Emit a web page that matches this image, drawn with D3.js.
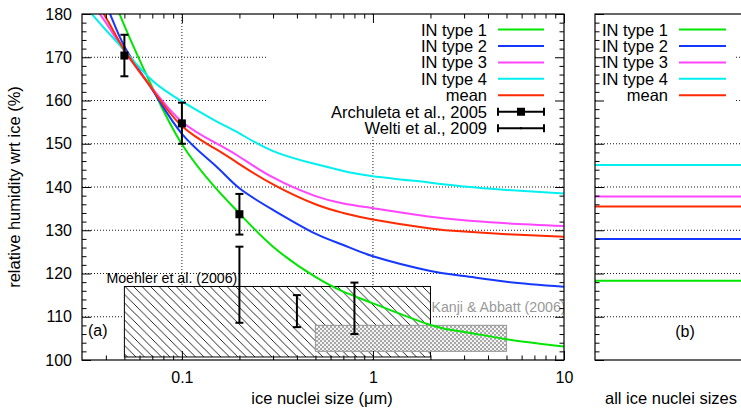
<!DOCTYPE html>
<html>
<head>
<meta charset="utf-8">
<script src="https://cdn.jsdelivr.net/npm/d3@7"></script>
<style>
  html, body { margin: 0; padding: 0; background: #fff; }
  svg { display: block; font-family: "Liberation Sans", Arial, Helvetica, sans-serif; }
</style>
</head>
<body>
<svg id="chart" width="741" height="410"></svg>
<script>
// Ice nuclei sizes (µm) at which the curves are sampled
const sizes = [0.03, 0.04, 0.05, 0.07, 0.1, 0.15, 0.2, 0.3, 0.5, 0.7, 1, 2, 3, 5, 10];

// Onset relative humidity wrt ice (%) for each IN type and their mean
const type1 = [200.0, 188.0, 177.3, 163.0, 149.9, 139.8, 133.9, 126.2, 119.2, 115.8, 113.1, 108.1, 106.5, 104.8, 103.1];
const type2 = [193.0, 182.3, 172.5, 162.5, 152.3, 144.9, 139.7, 134.7, 129.2, 126.6, 124.0, 120.6, 119.4, 118.1, 116.95];
const type3 = [185.5, 178.0, 171.4, 162.8, 155.1, 150.2, 147.0, 142.2, 137.9, 136.2, 135.1, 133.1, 132.3, 131.6, 131.0];
const type4 = [182.6, 176.3, 171.6, 164.6, 159.8, 155.3, 152.4, 148.3, 145.3, 143.7, 142.5, 141.0, 140.1, 139.3, 138.5];
const meanRH = [187.5, 179.2, 171.7, 162.6, 154.1, 148.8, 145.3, 140.6, 136.0, 134.0, 132.5, 130.4, 129.7, 129.1, 128.5];

// Size-independent values (panel b)
const allSizesNames = ["IN type 1", "IN type 2", "IN type 3", "IN type 4", "mean"];
const allSizesRH = [118.3, 128.0, 137.8, 145.1, 135.5];

// Archuleta et al., 2005
const archSize = [0.05, 0.1, 0.2];
const archRH = [170.4, 154.7, 133.7];
const archLow = [165.6, 150.0, 129.0];
const archHigh = [175.2, 159.5, 138.4];

// Welti et al., 2009
const weltiSize = [0.2, 0.4, 0.8];
const weltiLow = [108.6, 107.6, 106.0];
const weltiHigh = [126.2, 115.0, 117.9];

// Shaded measurement ranges
const moehlerSize = [0.05, 2];
const moehlerRH = [100.7, 117];
const kanjiSize = [0.5, 5];
const kanjiRH = [102, 108];

// Axis ticks
const yMajor = [100, 110, 120, 130, 140, 150, 160, 170, 180];
const xMajor = [0.1, 1, 10];
const xMajorLabels = ["0.1", "1", "10"];

const seriesNames = ["IN type 1", "IN type 2", "IN type 3", "IN type 4", "mean"];
const seriesColors = ["#00e600", "#1438ff", "#ff45ff", "#00f0f0", "#ff2a00"];
const seriesValues = [type1, type2, type3, type4, meanRH];

const FS = 16.5;      // key / label font size
const FS_TICK = 16;   // tick label font size
const FS_NOTE = 14.2; // annotation font size

const svg = d3.select("#chart");
svg.append("rect").attr("width", 741).attr("height", 410).attr("fill", "#fff");

const L = {x0: 82, x1: 564, y0: 14, y1: 360};
const R = {x0: 595, x1: 770};

const x = d3.scaleLog().domain([0.03, 10]).range([L.x0, L.x1]);
const y = d3.scaleLinear().domain([100, 180]).range([L.y1, L.y0]);

const defs = svg.append("defs");
defs.append("clipPath").attr("id", "clipL")
  .append("rect").attr("x", L.x0).attr("y", L.y0).attr("width", L.x1 - L.x0).attr("height", L.y1 - L.y0);
defs.append("clipPath").attr("id", "clipR")
  .append("rect").attr("x", R.x0).attr("y", L.y0).attr("width", R.x1 - R.x0).attr("height", L.y1 - L.y0);

// diagonal hatch for Moehler et al.
const hatch = defs.append("pattern").attr("id", "hatch")
  .attr("patternUnits", "userSpaceOnUse").attr("width", 8.5).attr("height", 8.5);
hatch.append("rect").attr("width", 8.5).attr("height", 8.5).attr("fill", "#fff");
hatch.append("path").attr("d", "M-1,-1 L9.5,9.5 M-3,5.5 L3,11.5 M5.5,-3 L11.5,3")
  .attr("stroke", "#000").attr("stroke-width", 0.85);

// fine grey cross-hatch for Kanji & Abbatt
const cross = defs.append("pattern").attr("id", "cross")
  .attr("patternUnits", "userSpaceOnUse").attr("width", 4).attr("height", 4);
cross.append("rect").attr("width", 4).attr("height", 4).attr("fill", "#f2f2f2");
cross.append("rect").attr("width", 2).attr("height", 2).attr("fill", "#a8a8a8");
cross.append("rect").attr("x", 2).attr("y", 2).attr("width", 2).attr("height", 2).attr("fill", "#a8a8a8");

const dotted = g => g.attr("stroke", "#000").attr("stroke-width", 0.9).attr("stroke-dasharray", "1,2");

// ---------- panel (a) ----------
const gridA = svg.append("g");
yMajor.filter(v => v > 100 && v < 180).forEach(v => {
  gridA.append("line").attr("x1", L.x0).attr("x2", L.x1).attr("y1", y(v)).attr("y2", y(v)).call(dotted);
});
xMajor.filter(v => v < 10).forEach(v => {
  gridA.append("line").attr("x1", x(v)).attr("x2", x(v)).attr("y1", L.y0).attr("y2", L.y1).call(dotted);
});

const plotA = svg.append("g").attr("clip-path", "url(#clipL)");

// measurement ranges
plotA.append("rect")
  .attr("x", x(moehlerSize[0])).attr("width", x(moehlerSize[1]) - x(moehlerSize[0]))
  .attr("y", y(moehlerRH[1])).attr("height", y(moehlerRH[0]) - y(moehlerRH[1]))
  .attr("fill", "url(#hatch)").attr("stroke", "#000").attr("stroke-width", 1);
plotA.append("rect")
  .attr("x", x(kanjiSize[0])).attr("width", x(kanjiSize[1]) - x(kanjiSize[0]))
  .attr("y", y(kanjiRH[1])).attr("height", y(kanjiRH[0]) - y(kanjiRH[1]))
  .attr("fill", "url(#cross)").attr("stroke", "#a0a0a0").attr("stroke-width", 1.2);
plotA.append("text").attr("x", x(moehlerSize[0]) - 18).attr("y", y(moehlerRH[1]) - 3)
  .attr("font-size", FS_NOTE).attr("fill", "#000").text("Moehler et al. (2006)");
plotA.append("text").attr("x", x(moehlerSize[1]) + 1).attr("y", 312)
  .attr("font-size", FS_NOTE).attr("fill", "#999").text("Kanji & Abbatt (2006)");

// model curves (smooth spline through the sampled sizes, in log-size space)
const line = d3.line().x(d => x(d[0])).y(d => y(d[1])).curve(d3.curveNatural);
seriesValues.forEach((vals, i) => {
  plotA.append("path").datum(sizes.map((s, j) => [s, vals[j]]))
    .attr("d", line).attr("fill", "none")
    .attr("stroke", seriesColors[i]).attr("stroke-width", 2);
});

// error bars
function errBar(g, cx, lo, hi) {
  const cap = 4;
  g.append("line").attr("x1", cx).attr("x2", cx).attr("y1", y(lo)).attr("y2", y(hi));
  g.append("line").attr("x1", cx - cap).attr("x2", cx + cap).attr("y1", y(lo)).attr("y2", y(lo));
  g.append("line").attr("x1", cx - cap).attr("x2", cx + cap).attr("y1", y(hi)).attr("y2", y(hi));
}
const bars = plotA.append("g").attr("stroke", "#000").attr("stroke-width", 2);
weltiSize.forEach((s, i) => errBar(bars, x(s), weltiLow[i], weltiHigh[i]));
archSize.forEach((s, i) => errBar(bars, x(s), archLow[i], archHigh[i]));
plotA.selectAll("rect.arch").data(archSize).join("rect").attr("class", "arch")
  .attr("x", d => x(d) - 4).attr("y", (d, i) => y(archRH[i]) - 4)
  .attr("width", 8).attr("height", 8).attr("fill", "#000");

plotA.append("text").attr("x", 88).attr("y", 336).attr("font-size", FS_TICK).text("(a)");

// key
const keyA = svg.append("g");
keyA.append("rect").attr("x", 268).attr("y", L.y0 + 1).attr("width", L.x1 - 268 - 1).attr("height", 122).attr("fill", "#fff");
const keyRowY = i => 29.5 + i * 16.45;
seriesNames.forEach((n, i) => {
  keyA.append("text").attr("x", 487).attr("y", keyRowY(i) + 6).attr("text-anchor", "end").attr("font-size", FS).text(n);
  keyA.append("line").attr("x1", 498).attr("x2", 544).attr("y1", keyRowY(i)).attr("y2", keyRowY(i))
    .attr("stroke", seriesColors[i]).attr("stroke-width", 2);
});
["Archuleta et al., 2005", "Welti et al., 2009"].forEach((n, k) => {
  const i = 5 + k, yy = keyRowY(i);
  keyA.append("text").attr("x", 487).attr("y", yy + 6).attr("text-anchor", "end").attr("font-size", FS).text(n);
  const g = keyA.append("g").attr("stroke", "#000").attr("stroke-width", 2);
  g.append("line").attr("x1", 498).attr("x2", 544).attr("y1", yy).attr("y2", yy);
  g.append("line").attr("x1", 498).attr("x2", 498).attr("y1", yy - 4).attr("y2", yy + 4);
  g.append("line").attr("x1", 544).attr("x2", 544).attr("y1", yy - 4).attr("y2", yy + 4);
  if (k === 0) keyA.append("rect").attr("x", 517).attr("y", yy - 4).attr("width", 8).attr("height", 8).attr("fill", "#000");
  else keyA.append("rect").attr("x", 520).attr("y", yy - 1).attr("width", 2).attr("height", 2).attr("fill", "#000");
});

// axes (inward ticks)
function styleAxis(g) {
  g.select(".domain").remove();
  g.selectAll(".tick line").attr("stroke", "#000").attr("stroke-width", 1);
  g.selectAll(".tick text").attr("font-size", FS_TICK).attr("fill", "#000")
    .attr("font-family", "'Liberation Sans', Arial, Helvetica, sans-serif");
}
const yMinor = d3.range(102, 180, 2).filter(v => v % 10 !== 0);
const xMinor = [];
[0.01, 0.1, 1].forEach(dec => { for (let k = 2; k <= 9; k++) { const v = +(k * dec).toFixed(3); if (v > 0.03) xMinor.push(v); } });

svg.append("g").attr("transform", `translate(${L.x0},0)`)
  .call(d3.axisLeft(y).tickValues(yMajor).tickSize(-9).tickPadding(10).tickFormat(d3.format("d"))).call(styleAxis);
svg.append("g").attr("transform", `translate(${L.x0},0)`)
  .call(d3.axisLeft(y).tickValues(yMinor).tickSize(-4.5).tickFormat("")).call(styleAxis);
svg.append("g").attr("transform", `translate(${L.x1},0)`)
  .call(d3.axisRight(y).tickValues(yMajor).tickSize(-9).tickFormat("")).call(styleAxis);
svg.append("g").attr("transform", `translate(${L.x1},0)`)
  .call(d3.axisRight(y).tickValues(yMinor).tickSize(-4.5).tickFormat("")).call(styleAxis);

svg.append("g").attr("transform", `translate(0,${L.y1})`)
  .call(d3.axisBottom(x).tickValues(xMajor).tickSize(-9).tickPadding(12).tickFormat((d, i) => xMajorLabels[i])).call(styleAxis);
svg.append("g").attr("transform", `translate(0,${L.y1})`)
  .call(d3.axisBottom(x).tickValues(xMinor).tickSize(-4.5).tickFormat("")).call(styleAxis);
svg.append("g").attr("transform", `translate(0,${L.y0})`)
  .call(d3.axisTop(x).tickValues(xMajor).tickSize(-9).tickFormat("")).call(styleAxis);
svg.append("g").attr("transform", `translate(0,${L.y0})`)
  .call(d3.axisTop(x).tickValues(xMinor).tickSize(-4.5).tickFormat("")).call(styleAxis);

svg.append("rect").attr("x", L.x0).attr("y", L.y0).attr("width", L.x1 - L.x0).attr("height", L.y1 - L.y0)
  .attr("fill", "none").attr("stroke", "#000").attr("stroke-width", 1.2);

svg.append("text").attr("x", 322).attr("y", 404).attr("text-anchor", "middle").attr("font-size", FS)
  .text("ice nuclei size (\u03bcm)");
svg.append("text").attr("transform", "translate(19.5,187) rotate(-90)").attr("text-anchor", "middle").attr("font-size", FS)
  .text("relative humidity wrt ice (%)");

// ---------- panel (b) ----------
const gridB = svg.append("g").attr("clip-path", "url(#clipR)");
yMajor.filter(v => v > 100 && v < 180).forEach(v => {
  gridB.append("line").attr("x1", R.x0).attr("x2", R.x1).attr("y1", y(v)).attr("y2", y(v)).call(dotted);
});
const plotB = svg.append("g").attr("clip-path", "url(#clipR)");
allSizesRH.forEach((v, i) => {
  plotB.append("line").attr("x1", R.x0).attr("x2", R.x1).attr("y1", y(v)).attr("y2", y(v))
    .attr("stroke", seriesColors[i]).attr("stroke-width", 2);
});
plotB.append("text").attr("x", 685).attr("y", 337).attr("text-anchor", "middle").attr("font-size", FS_TICK).text("(b)");

const keyB = svg.append("g");
keyB.append("rect").attr("x", R.x0 + 1).attr("y", L.y0 + 1).attr("width", 735 - R.x0).attr("height", 94).attr("fill", "#fff");
allSizesNames.forEach((n, i) => {
  keyB.append("text").attr("x", 668).attr("y", keyRowY(i) + 6).attr("text-anchor", "end").attr("font-size", FS).text(n);
  keyB.append("line").attr("x1", 679).attr("x2", 726).attr("y1", keyRowY(i)).attr("y2", keyRowY(i))
    .attr("stroke", seriesColors[i]).attr("stroke-width", 2);
});

svg.append("g").attr("transform", `translate(${R.x0},0)`)
  .call(d3.axisLeft(y).tickValues(yMajor).tickSize(-9).tickFormat("")).call(styleAxis);
svg.append("g").attr("transform", `translate(${R.x0},0)`)
  .call(d3.axisLeft(y).tickValues(yMinor).tickSize(-4.5).tickFormat("")).call(styleAxis);
svg.append("rect").attr("x", R.x0).attr("y", L.y0).attr("width", R.x1 - R.x0).attr("height", L.y1 - L.y0)
  .attr("fill", "none").attr("stroke", "#000").attr("stroke-width", 1.2);

svg.append("text").attr("x", 671).attr("y", 404).attr("text-anchor", "middle").attr("font-size", FS)
  .text("all ice nuclei sizes");
</script>
</body>
</html>
